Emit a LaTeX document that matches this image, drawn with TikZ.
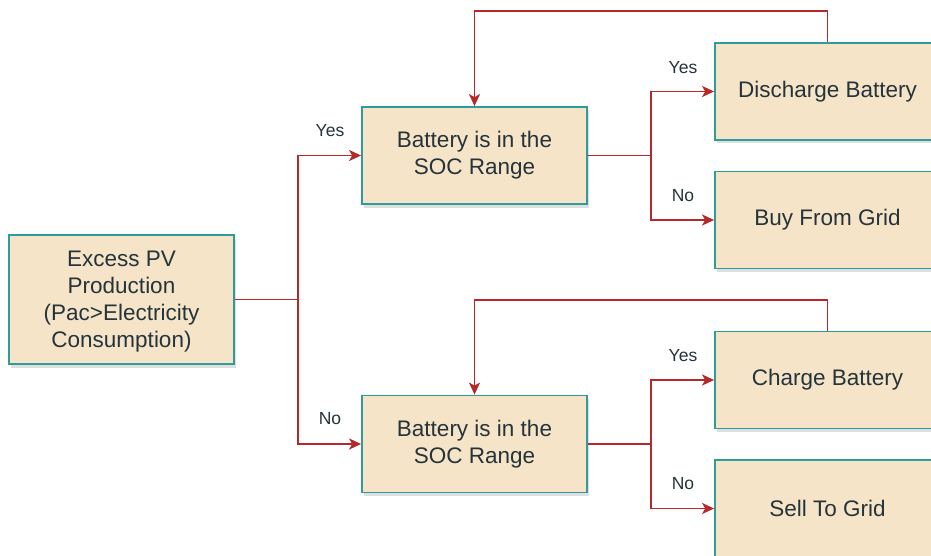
\documentclass[tikz,border=0pt]{standalone}
\usepackage{fontspec}
\setmainfont{Liberation Sans}
\usepackage{xcolor}
\usetikzlibrary{arrows.meta,positioning,shadows}
\definecolor{boxfill}{HTML}{F5E4C7}
\definecolor{boxedge}{HTML}{2E9C9A}
\definecolor{flowred}{HTML}{B5292B}
\definecolor{textink}{HTML}{25343B}

\tikzset{
  flowbox/.style={draw=boxedge,line width=1.8pt,fill=boxfill,align=center,
    minimum width=225pt,minimum height=97pt,inner sep=2pt,text=textink,
    font=\fontsize{22.5}{27}\selectfont,
    drop shadow={opacity=0.25,shadow xshift=1.5pt,shadow yshift=-3.5pt}},
  flowline/.style={draw=flowred,line width=1.8pt},
  flowarrow/.style={flowline,-{Stealth[length=12pt,width=11pt,inset=3pt]}},
  answer/.style={text=textink,font=\fontsize{17.5}{20}\selectfont,inner sep=0pt}
}

\begin{document}
\begin{tikzpicture}[x=1pt,y=-1pt]
  \useasboundingbox (0,0) rectangle (931,556);
  \node[flowbox,minimum height=129pt,text depth=-1pt] (pv) at (121.5,299.5)
    {Excess PV\\Production\\(Pac>Electricity\\Consumption)};
  \node[flowbox] (socup) at (474.5,155.5) {Battery is in the\\SOC Range};
  \node[flowbox] (soclow) at (474.5,444) {Battery is in the\\SOC Range};
  \node[flowbox] (dis) at (827.5,91.5) {Discharge Battery};
  \node[flowbox] (buy) at (827.5,220) {Buy From Grid};
  \node[flowbox] (chg) at (827.5,380) {Charge Battery};
  \node[flowbox] (sell) at (827.5,508.5) {Sell To Grid};

  \coordinate (splitpv) at (298,299.5);
  \coordinate (splitup) at (651,155.5);
  \coordinate (splitlow) at (651,444);

  \draw[flowline] (pv.east) -- (splitpv);
  \draw[flowarrow] (splitpv) |- (socup.west);
  \draw[flowarrow] (splitpv) |- (soclow.west);
  \draw[flowline] (socup.east) -- (splitup);
  \draw[flowarrow] (splitup) |- (dis.west);
  \draw[flowarrow] (splitup) |- (buy.west);
  \draw[flowline] (soclow.east) -- (splitlow);
  \draw[flowarrow] (splitlow) |- (chg.west);
  \draw[flowarrow] (splitlow) |- (sell.west);

  % loops back from the battery actions
  \draw[flowarrow] (dis.north) -- ++(0,-31) -| (socup.north);
  \draw[flowarrow] (chg.north) -- ++(0,-31) -| (soclow.north);

  \node[answer] (yespv) at (330,131) {Yes};
  \node[answer] (nopv) at (330,419) {No};
  \node[answer] (yesup) at (683,68) {Yes};
  \node[answer] (noup) at (683,196) {No};
  \node[answer] (yeslow) at (683,356) {Yes};
  \node[answer] (nolow) at (683,484) {No};
\end{tikzpicture}
\end{document}
